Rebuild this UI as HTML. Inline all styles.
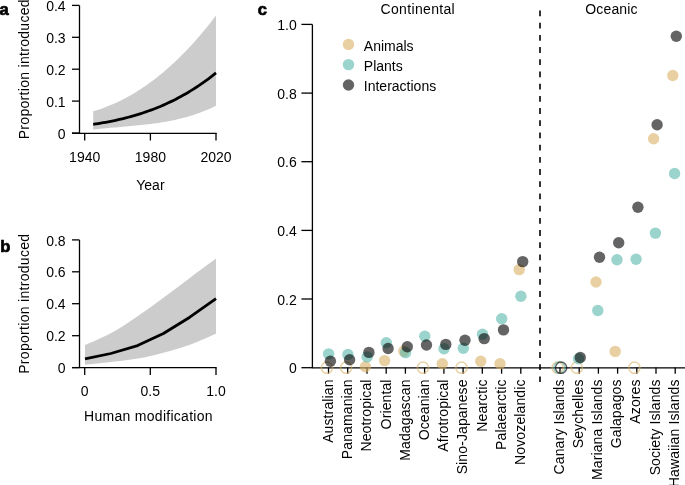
<!DOCTYPE html><html><head><meta charset="utf-8"><style>html,body{margin:0;padding:0;background:#fff;width:685px;height:485px;overflow:hidden}svg{display:block;will-change:transform}text{font-family:"Liberation Sans", sans-serif;font-size:14px;fill:#000}.b{font-weight:bold;font-size:16.5px;stroke:#000;stroke-width:0.7px}</style></head><body>
<svg width="685" height="485" viewBox="0 0 685 485">
<text class="b" x="-0.5" y="14.5">a</text>
<text class="b" x="0.3" y="251.5">b</text>
<text class="b" x="257.8" y="14.8">c</text>
<path d="M79.5 5.4 V133.3 M72 133.3 H216.6" stroke="#000" stroke-width="1.3" fill="none"/>
<path d="M72 5.4 H79.5" stroke="#000" stroke-width="1.3" fill="none"/>
<text x="65.6" y="11.0" text-anchor="end">0.4</text>
<path d="M72 37.3 H79.5" stroke="#000" stroke-width="1.3" fill="none"/>
<text x="65.6" y="42.9" text-anchor="end">0.3</text>
<path d="M72 69.2 H79.5" stroke="#000" stroke-width="1.3" fill="none"/>
<text x="65.6" y="74.8" text-anchor="end">0.2</text>
<path d="M72 101.1 H79.5" stroke="#000" stroke-width="1.3" fill="none"/>
<text x="65.6" y="106.7" text-anchor="end">0.1</text>
<path d="M72 133.0 H79.5" stroke="#000" stroke-width="1.3" fill="none"/>
<text x="65.6" y="138.6" text-anchor="end">0</text>
<path d="M84.7 133 V140.5" stroke="#000" stroke-width="1.3" fill="none"/>
<text x="84.7" y="161.5" text-anchor="middle">1940</text>
<path d="M150.4 133 V140.5" stroke="#000" stroke-width="1.3" fill="none"/>
<text x="150.4" y="161.5" text-anchor="middle">1980</text>
<path d="M216.0 133 V140.5" stroke="#000" stroke-width="1.3" fill="none"/>
<text x="216.0" y="161.5" text-anchor="middle">2020</text>
<text x="150.4" y="189.8" text-anchor="middle">Year</text>
<text transform="translate(28.9 69.2) rotate(-90)" text-anchor="middle" letter-spacing="0.3">Proportion introduced</text>
<path d="M93.20 111.29 L95.71 110.54 L98.21 109.75 L100.72 108.91 L103.22 108.03 L105.73 107.09 L108.24 106.12 L110.74 105.09 L113.25 104.02 L115.76 102.90 L118.26 101.73 L120.77 100.51 L123.27 99.25 L125.78 97.93 L128.29 96.57 L130.79 95.16 L133.30 93.69 L135.80 92.18 L138.31 90.62 L140.82 89.01 L143.32 87.34 L145.83 85.63 L148.33 83.86 L150.84 82.04 L153.35 80.17 L155.85 78.24 L158.36 76.27 L160.87 74.24 L163.37 72.16 L165.88 70.02 L168.38 67.83 L170.89 65.59 L173.40 63.29 L175.90 60.94 L178.41 58.53 L180.91 56.06 L183.42 53.54 L185.93 50.97 L188.43 48.34 L190.94 45.65 L193.44 42.91 L195.95 40.10 L198.46 37.25 L200.96 34.33 L203.47 31.35 L205.98 28.32 L208.48 25.23 L210.99 22.08 L213.49 18.87 L216.00 15.60 L216.00 105.86 L213.49 107.06 L210.99 108.20 L208.48 109.29 L205.98 110.34 L203.47 111.34 L200.96 112.29 L198.46 113.20 L195.95 114.07 L193.44 114.89 L190.94 115.68 L188.43 116.43 L185.93 117.14 L183.42 117.81 L180.91 118.45 L178.41 119.06 L175.90 119.63 L173.40 120.18 L170.89 120.69 L168.38 121.18 L165.88 121.64 L163.37 122.08 L160.87 122.49 L158.36 122.88 L155.85 123.25 L153.35 123.60 L150.84 123.93 L148.33 124.25 L145.83 124.55 L143.32 124.83 L140.82 125.10 L138.31 125.36 L135.80 125.61 L133.30 125.85 L130.79 126.09 L128.29 126.31 L125.78 126.54 L123.27 126.76 L120.77 126.97 L118.26 127.19 L115.76 127.41 L113.25 127.62 L110.74 127.85 L108.24 128.07 L105.73 128.31 L103.22 128.55 L100.72 128.79 L98.21 129.05 L95.71 129.32 L93.20 129.61 Z" fill="#cccccc"/>
<path d="M93.20 124.33 L95.71 123.96 L98.21 123.56 L100.72 123.15 L103.22 122.71 L105.73 122.26 L108.24 121.80 L110.74 121.31 L113.25 120.80 L115.76 120.26 L118.26 119.71 L120.77 119.13 L123.27 118.53 L125.78 117.91 L128.29 117.26 L130.79 116.58 L133.30 115.88 L135.80 115.14 L138.31 114.39 L140.82 113.60 L143.32 112.78 L145.83 111.93 L148.33 111.05 L150.84 110.14 L153.35 109.20 L155.85 108.23 L158.36 107.22 L160.87 106.17 L163.37 105.09 L165.88 103.97 L168.38 102.82 L170.89 101.63 L173.40 100.40 L175.90 99.13 L178.41 97.83 L180.91 96.48 L183.42 95.09 L185.93 93.66 L188.43 92.18 L190.94 90.67 L193.44 89.10 L195.95 87.50 L198.46 85.85 L200.96 84.15 L203.47 82.40 L205.98 80.61 L208.48 78.77 L210.99 76.88 L213.49 74.94 L216.00 72.95" stroke="#000" stroke-width="2.8" fill="none"/>
<path d="M79.5 239.9 V367.9 M72 367.6 H216.6" stroke="#000" stroke-width="1.3" fill="none"/>
<path d="M72 239.9 H79.5" stroke="#000" stroke-width="1.3" fill="none"/>
<text x="65.6" y="245.5" text-anchor="end">0.8</text>
<path d="M72 271.8 H79.5" stroke="#000" stroke-width="1.3" fill="none"/>
<text x="65.6" y="277.4" text-anchor="end">0.6</text>
<path d="M72 303.7 H79.5" stroke="#000" stroke-width="1.3" fill="none"/>
<text x="65.6" y="309.3" text-anchor="end">0.4</text>
<path d="M72 335.7 H79.5" stroke="#000" stroke-width="1.3" fill="none"/>
<text x="65.6" y="341.3" text-anchor="end">0.2</text>
<path d="M72 367.6 H79.5" stroke="#000" stroke-width="1.3" fill="none"/>
<text x="65.6" y="373.2" text-anchor="end">0</text>
<path d="M84.7 367.4 V375" stroke="#000" stroke-width="1.3" fill="none"/>
<text x="84.7" y="396.3" text-anchor="middle">0</text>
<path d="M150.3 367.4 V375" stroke="#000" stroke-width="1.3" fill="none"/>
<text x="150.3" y="396.3" text-anchor="middle">0.5</text>
<path d="M216.0 367.4 V375" stroke="#000" stroke-width="1.3" fill="none"/>
<text x="216.0" y="396.3" text-anchor="middle">1.0</text>
<text x="148.5" y="420.7" text-anchor="middle" letter-spacing="0.28">Human modification</text>
<text transform="translate(28.9 303.7) rotate(-90)" text-anchor="middle" letter-spacing="0.3">Proportion introduced</text>
<path d="M85.00 345.10 C89.30 343.13 102.03 338.10 110.80 333.30 C119.57 328.50 128.83 322.22 137.60 316.30 C146.37 310.38 154.70 304.20 163.40 297.80 C172.10 291.40 181.03 284.45 189.80 277.90 C198.57 271.35 211.63 261.73 216.00 258.50 L216.00 333.80 C211.63 335.63 198.57 341.65 189.80 344.80 C181.03 347.95 172.10 350.40 163.40 352.70 C154.70 355.00 146.37 357.03 137.60 358.60 C128.83 360.17 119.57 361.07 110.80 362.10 C102.03 363.13 89.30 364.35 85.00 364.80 Z" fill="#cccccc"/>
<path d="M85.00 358.90 L110.80 353.50 L137.60 345.60 L163.40 333.50 L189.80 317.20 L216.00 298.70" stroke="#000" stroke-width="2.8" fill="none" stroke-linejoin="round"/>
<path d="M312.4 24.4 V368.1 M311.8 367.8 H690" stroke="#000" stroke-width="1.3" fill="none"/>
<path d="M301.4 24.4 H312.4" stroke="#000" stroke-width="1.3" fill="none"/>
<text x="296.8" y="30.0" text-anchor="end">1.0</text>
<path d="M301.4 93.1 H312.4" stroke="#000" stroke-width="1.3" fill="none"/>
<text x="296.8" y="98.7" text-anchor="end">0.8</text>
<path d="M301.4 161.7 H312.4" stroke="#000" stroke-width="1.3" fill="none"/>
<text x="296.8" y="167.3" text-anchor="end">0.6</text>
<path d="M301.4 230.4 H312.4" stroke="#000" stroke-width="1.3" fill="none"/>
<text x="296.8" y="236.0" text-anchor="end">0.4</text>
<path d="M301.4 299.0 H312.4" stroke="#000" stroke-width="1.3" fill="none"/>
<text x="296.8" y="304.6" text-anchor="end">0.2</text>
<path d="M301.4 367.7 H312.4" stroke="#000" stroke-width="1.3" fill="none"/>
<text x="296.8" y="373.3" text-anchor="end">0</text>
<path d="M328.5 367.6 V373.7" stroke="#000" stroke-width="1.3" fill="none"/>
<path d="M347.7 367.6 V373.7" stroke="#000" stroke-width="1.3" fill="none"/>
<path d="M367.0 367.6 V373.7" stroke="#000" stroke-width="1.3" fill="none"/>
<path d="M386.2 367.6 V373.7" stroke="#000" stroke-width="1.3" fill="none"/>
<path d="M405.4 367.6 V373.7" stroke="#000" stroke-width="1.3" fill="none"/>
<path d="M424.6 367.6 V373.7" stroke="#000" stroke-width="1.3" fill="none"/>
<path d="M443.9 367.6 V373.7" stroke="#000" stroke-width="1.3" fill="none"/>
<path d="M463.1 367.6 V373.7" stroke="#000" stroke-width="1.3" fill="none"/>
<path d="M482.3 367.6 V373.7" stroke="#000" stroke-width="1.3" fill="none"/>
<path d="M501.6 367.6 V373.7" stroke="#000" stroke-width="1.3" fill="none"/>
<path d="M520.8 367.6 V373.7" stroke="#000" stroke-width="1.3" fill="none"/>
<path d="M560.0 367.6 V373.7" stroke="#000" stroke-width="1.3" fill="none"/>
<path d="M579.2 367.6 V373.7" stroke="#000" stroke-width="1.3" fill="none"/>
<path d="M598.4 367.6 V373.7" stroke="#000" stroke-width="1.3" fill="none"/>
<path d="M617.6 367.6 V373.7" stroke="#000" stroke-width="1.3" fill="none"/>
<path d="M636.8 367.6 V373.7" stroke="#000" stroke-width="1.3" fill="none"/>
<path d="M656.0 367.6 V373.7" stroke="#000" stroke-width="1.3" fill="none"/>
<path d="M675.2 367.6 V373.7" stroke="#000" stroke-width="1.3" fill="none"/>
<text transform="translate(332.8 379.4) rotate(-90)" text-anchor="end" letter-spacing="0.12">Australian</text>
<text transform="translate(352.0 379.4) rotate(-90)" text-anchor="end" letter-spacing="0.12">Panamanian</text>
<text transform="translate(371.3 379.4) rotate(-90)" text-anchor="end" letter-spacing="0.12">Neotropical</text>
<text transform="translate(390.5 379.4) rotate(-90)" text-anchor="end" letter-spacing="0.12">Oriental</text>
<text transform="translate(409.7 379.4) rotate(-90)" text-anchor="end" letter-spacing="0.12">Madagascan</text>
<text transform="translate(428.9 379.4) rotate(-90)" text-anchor="end" letter-spacing="0.12">Oceanian</text>
<text transform="translate(448.2 379.4) rotate(-90)" text-anchor="end" letter-spacing="0.12">Afrotropical</text>
<text transform="translate(467.4 379.4) rotate(-90)" text-anchor="end" letter-spacing="0.12">Sino-Japanese</text>
<text transform="translate(486.6 379.4) rotate(-90)" text-anchor="end" letter-spacing="0.12">Nearctic</text>
<text transform="translate(505.9 379.4) rotate(-90)" text-anchor="end" letter-spacing="0.12">Palaearctic</text>
<text transform="translate(525.1 379.4) rotate(-90)" text-anchor="end" letter-spacing="0.12">Novozelandic</text>
<text transform="translate(563.6 379.4) rotate(-90)" text-anchor="end" letter-spacing="0.12">Canary Islands</text>
<text transform="translate(582.8 379.4) rotate(-90)" text-anchor="end" letter-spacing="0.12">Seychelles</text>
<text transform="translate(602.0 379.4) rotate(-90)" text-anchor="end" letter-spacing="0.12">Mariana Islands</text>
<text transform="translate(621.2 379.4) rotate(-90)" text-anchor="end" letter-spacing="0.12">Galapagos</text>
<text transform="translate(640.4 379.4) rotate(-90)" text-anchor="end" letter-spacing="0.12">Azores</text>
<text transform="translate(659.6 379.4) rotate(-90)" text-anchor="end" letter-spacing="0.12">Society Islands</text>
<text transform="translate(678.8 379.4) rotate(-90)" text-anchor="end" letter-spacing="0.12">Hawaiian Islands</text>
<path d="M540 10.5 V382" stroke="#000" stroke-width="1.6" stroke-dasharray="5.8 6.4" fill="none"/>
<circle cx="326.9" cy="367.7" r="5.6" fill="none" stroke="rgba(218,177,102,0.6)" stroke-width="1.5"/>
<circle cx="346.1" cy="367.7" r="5.6" fill="none" stroke="rgba(218,177,102,0.6)" stroke-width="1.5"/>
<circle cx="365.4" cy="366.8" r="5.7" fill="rgba(218,177,102,0.6)"/>
<circle cx="384.6" cy="360.6" r="5.7" fill="rgba(218,177,102,0.6)"/>
<circle cx="403.8" cy="351.2" r="5.7" fill="rgba(218,177,102,0.6)"/>
<circle cx="423.0" cy="367.7" r="5.6" fill="none" stroke="rgba(218,177,102,0.6)" stroke-width="1.5"/>
<circle cx="442.3" cy="363.7" r="5.7" fill="rgba(218,177,102,0.6)"/>
<circle cx="461.5" cy="367.7" r="5.6" fill="none" stroke="rgba(218,177,102,0.6)" stroke-width="1.5"/>
<circle cx="480.7" cy="361.2" r="5.7" fill="rgba(218,177,102,0.6)"/>
<circle cx="500.0" cy="363.7" r="5.7" fill="rgba(218,177,102,0.6)"/>
<circle cx="519.2" cy="269.6" r="5.7" fill="rgba(218,177,102,0.6)"/>
<circle cx="557.6" cy="367.7" r="5.6" fill="none" stroke="rgba(218,177,102,0.6)" stroke-width="1.5"/>
<circle cx="576.8" cy="367.7" r="5.6" fill="none" stroke="rgba(218,177,102,0.6)" stroke-width="1.5"/>
<circle cx="596.0" cy="282.0" r="5.7" fill="rgba(218,177,102,0.6)"/>
<circle cx="615.2" cy="351.4" r="5.7" fill="rgba(218,177,102,0.6)"/>
<circle cx="634.4" cy="367.7" r="5.6" fill="none" stroke="rgba(218,177,102,0.6)" stroke-width="1.5"/>
<circle cx="653.6" cy="138.8" r="5.7" fill="rgba(218,177,102,0.6)"/>
<circle cx="672.8" cy="75.5" r="5.7" fill="rgba(218,177,102,0.6)"/>
<circle cx="328.6" cy="353.9" r="5.7" fill="rgba(88,182,172,0.6)"/>
<circle cx="347.9" cy="354.5" r="5.7" fill="rgba(88,182,172,0.6)"/>
<circle cx="367.1" cy="356.9" r="5.7" fill="rgba(88,182,172,0.6)"/>
<circle cx="386.3" cy="342.8" r="5.7" fill="rgba(88,182,172,0.6)"/>
<circle cx="405.6" cy="352.6" r="5.7" fill="rgba(88,182,172,0.6)"/>
<circle cx="424.8" cy="336.3" r="5.7" fill="rgba(88,182,172,0.6)"/>
<circle cx="444.0" cy="348.7" r="5.7" fill="rgba(88,182,172,0.6)"/>
<circle cx="463.3" cy="348.3" r="5.7" fill="rgba(88,182,172,0.6)"/>
<circle cx="482.5" cy="334.2" r="5.7" fill="rgba(88,182,172,0.6)"/>
<circle cx="501.7" cy="318.7" r="5.7" fill="rgba(88,182,172,0.6)"/>
<circle cx="520.9" cy="296.3" r="5.7" fill="rgba(88,182,172,0.6)"/>
<circle cx="559.4" cy="367.7" r="5.6" fill="none" stroke="rgba(88,182,172,0.6)" stroke-width="1.5"/>
<circle cx="578.6" cy="358.8" r="5.7" fill="rgba(88,182,172,0.6)"/>
<circle cx="597.8" cy="310.5" r="5.7" fill="rgba(88,182,172,0.6)"/>
<circle cx="617.0" cy="259.8" r="5.7" fill="rgba(88,182,172,0.6)"/>
<circle cx="636.1" cy="259.3" r="5.7" fill="rgba(88,182,172,0.6)"/>
<circle cx="655.4" cy="233.1" r="5.7" fill="rgba(88,182,172,0.6)"/>
<circle cx="674.6" cy="173.5" r="5.7" fill="rgba(88,182,172,0.6)"/>
<circle cx="330.4" cy="361.3" r="5.7" fill="rgba(0,0,0,0.607)"/>
<circle cx="349.6" cy="359.8" r="5.7" fill="rgba(0,0,0,0.607)"/>
<circle cx="368.9" cy="352.4" r="5.7" fill="rgba(0,0,0,0.607)"/>
<circle cx="388.1" cy="348.5" r="5.7" fill="rgba(0,0,0,0.607)"/>
<circle cx="407.3" cy="346.8" r="5.7" fill="rgba(0,0,0,0.607)"/>
<circle cx="426.5" cy="345.0" r="5.7" fill="rgba(0,0,0,0.607)"/>
<circle cx="445.8" cy="344.4" r="5.7" fill="rgba(0,0,0,0.607)"/>
<circle cx="465.0" cy="340.3" r="5.7" fill="rgba(0,0,0,0.607)"/>
<circle cx="484.2" cy="338.6" r="5.7" fill="rgba(0,0,0,0.607)"/>
<circle cx="503.5" cy="329.9" r="5.7" fill="rgba(0,0,0,0.607)"/>
<circle cx="522.7" cy="261.6" r="5.7" fill="rgba(0,0,0,0.607)"/>
<circle cx="561.1" cy="367.7" r="5.6" fill="none" stroke="rgba(0,0,0,0.607)" stroke-width="1.5"/>
<circle cx="580.3" cy="357.5" r="5.7" fill="rgba(0,0,0,0.607)"/>
<circle cx="599.5" cy="257.3" r="5.7" fill="rgba(0,0,0,0.607)"/>
<circle cx="618.7" cy="242.7" r="5.7" fill="rgba(0,0,0,0.607)"/>
<circle cx="637.9" cy="207.3" r="5.7" fill="rgba(0,0,0,0.607)"/>
<circle cx="657.1" cy="124.8" r="5.7" fill="rgba(0,0,0,0.607)"/>
<circle cx="676.3" cy="36.3" r="5.7" fill="rgba(0,0,0,0.607)"/>
<text x="417.8" y="13.5" text-anchor="middle" letter-spacing="0.33">Continental</text>
<text x="611.5" y="13.5" text-anchor="middle" letter-spacing="0.15">Oceanic</text>
<circle cx="348.5" cy="44.4" r="5.7" fill="rgba(218,177,102,0.6)"/>
<text x="363.8" y="50.6">Animals</text>
<circle cx="348.5" cy="64.6" r="5.7" fill="rgba(88,182,172,0.6)"/>
<text x="363.8" y="70.9">Plants</text>
<circle cx="348.5" cy="85.0" r="5.7" fill="rgba(0,0,0,0.607)"/>
<text x="363.8" y="90.9">Interactions</text>
</svg></body></html>
